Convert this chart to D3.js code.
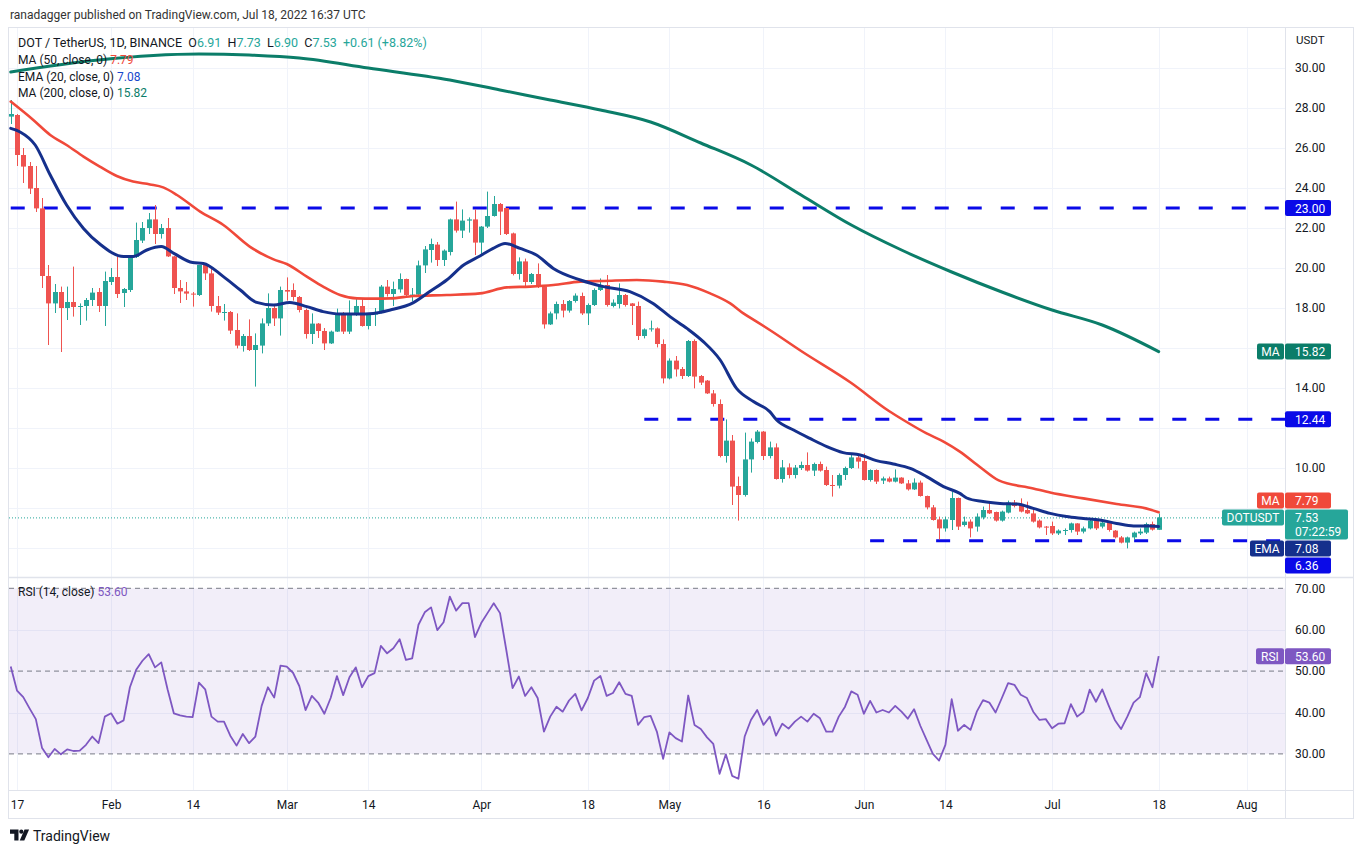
<!DOCTYPE html>
<html><head><meta charset="utf-8">
<script src="https://cdn.jsdelivr.net/npm/d3@7"></script>
<style>body{margin:0;background:#fff;} svg{display:block;font-family:Roboto,"Liberation Sans",sans-serif;}</style>
</head><body><svg id="c" width="1363" height="854"></svg>
<script>
// ---------- DATA ----------
const firstDay = "2022-01-16";
const opens = [27.57,27.65,25.65,25.1,24.0,22.98,19.6,18.23,18.8,18.0,18.3,18.05,18.1,18.4,18.8,18.1,19.3,19.55,18.75,18.9,
20.55,21.37,22.0,22.43,21.7,22.0,20.58,19.0,18.83,18.72,18.65,20.15,19.73,18.1,17.77,17.8,16.9,16.1,16.6,15.9,
16.12,17.23,18.0,17.48,18.9,18.9,18.55,17.9,16.7,17.22,16.85,16.23,16.82,17.75,16.82,17.67,18.1,17.1,17.67,17.75,
19.07,18.7,18.93,19.45,18.6,18.67,20.13,20.9,21.17,20.4,20.8,22.43,21.87,22.37,22.43,21.27,22.07,22.6,23.2,23.0,
21.73,19.7,20.33,19.3,19.7,19.08,17.18,17.73,18.2,17.87,18.35,18.6,17.73,18.15,18.9,19.15,18.1,18.2,18.65,18.23,
18.1,16.6,16.93,16.98,16.2,14.48,15.37,14.95,14.6,16.35,14.6,14.37,13.73,13.2,10.6,11.37,9.1,8.65,10.43,11.3,
11.82,10.6,11.03,9.45,10.03,9.65,10.0,10.15,9.87,10.2,9.9,9.15,9.12,9.65,10.0,10.53,10.35,9.4,9.9,9.37,
9.48,9.32,9.52,9.23,8.93,9.27,8.6,8.03,7.43,6.98,7.4,8.5,7.15,7.32,7.07,7.53,7.9,7.8,7.37,7.77,
8.27,8.2,7.9,7.73,7.37,7.07,7.1,6.73,6.87,6.9,7.23,6.82,6.98,7.37,7.07,7.27,6.87,6.53,6.27,6.53,
6.73,6.77,7.2,6.91];
const highs = [28.4,27.7,26.0,25.3,25.1,23.5,20.15,19.2,19.07,19.07,20.07,18.23,18.5,19.0,19.0,19.82,20.0,20.57,19.0,20.6,
22.27,22.3,22.75,23.15,22.2,22.5,20.6,19.4,19.3,18.8,20.15,20.2,20.0,18.6,18.2,17.85,17.73,16.7,17.43,16.73,
17.48,18.73,18.15,19.07,19.53,19.23,18.6,17.97,17.73,17.25,17.0,16.87,17.97,17.8,18.38,18.47,18.45,17.75,18.0,19.15,
19.4,19.32,19.73,19.47,19.0,20.37,21.1,21.47,21.3,20.93,22.47,23.32,22.93,22.53,22.93,22.1,23.82,23.6,23.25,23.0,
21.77,20.53,20.47,19.75,20.23,19.1,17.82,18.32,18.4,18.4,18.73,18.77,18.23,18.98,19.48,19.65,18.43,19.23,18.7,18.25,
18.32,16.98,17.37,17.03,16.43,15.48,15.6,15.05,16.4,16.43,14.65,14.4,13.9,13.43,12.43,11.65,9.57,11.77,11.48,11.9,
11.85,11.32,11.23,10.4,10.23,10.15,10.32,10.78,10.27,10.32,10.07,9.65,9.73,10.07,10.73,10.65,10.73,9.93,9.93,9.57,
9.57,9.93,9.54,9.4,9.48,9.37,8.62,8.15,7.57,7.57,8.82,8.52,7.57,7.43,7.73,8.07,8.32,7.82,7.87,8.37,
8.4,8.48,8.32,7.98,7.43,7.1,7.32,6.93,6.98,7.27,7.24,7.07,7.48,7.48,7.4,7.32,6.9,6.6,6.57,6.82,
6.98,7.27,7.32,7.73];
const lows = [27.2,25.1,24.25,23.7,22.8,19.0,16.15,17.75,15.8,17.4,17.57,17.15,17.37,18.1,17.8,17.1,19.15,18.5,18.05,18.8,
20.5,21.25,21.7,21.2,21.47,20.55,18.7,18.25,18.4,18.07,18.6,19.4,17.82,17.65,17.37,16.7,15.98,15.82,15.85,14.07,
15.73,17.1,17.1,16.62,18.37,18.37,17.78,16.47,16.2,16.5,15.9,16.2,16.8,16.7,16.7,17.6,17.07,16.93,17.1,17.73,
18.57,18.1,18.77,18.6,18.33,18.62,19.75,20.27,20.1,20.1,20.63,21.77,21.5,21.77,20.65,20.65,22.0,22.57,21.65,21.65,
19.63,19.42,19.08,19.2,19.0,16.97,17.15,17.43,17.53,17.77,18.27,17.65,17.15,18.1,18.85,18.07,18.03,17.98,18.07,17.15,
16.4,16.48,16.82,16.03,14.23,14.43,14.57,14.45,14.55,13.98,14.15,13.7,13.07,10.53,10.27,8.15,7.37,8.57,9.77,11.23,
10.4,10.48,9.42,9.27,9.48,9.48,9.9,9.82,9.6,9.82,9.1,8.57,8.98,9.4,9.95,9.98,9.37,9.32,9.2,9.2,
9.28,9.28,9.2,8.87,8.9,8.57,7.93,7.37,6.43,6.82,6.9,6.9,7.07,6.53,6.82,7.43,7.7,7.32,7.32,7.73,
8.03,7.78,7.7,7.27,6.98,6.65,6.65,6.65,6.65,6.77,6.65,6.73,6.93,6.9,6.98,6.82,6.48,6.23,5.98,6.4,
6.65,6.7,6.87,6.90];
const closes = [27.7,25.65,25.07,23.97,22.98,19.6,18.23,18.8,18.0,18.3,18.05,18.1,18.4,18.77,18.1,19.35,19.55,18.7,18.95,20.55,
21.4,22.0,22.43,21.7,22.0,20.58,19.0,18.83,18.72,18.68,20.15,19.73,18.1,17.77,17.8,16.87,16.12,16.6,15.9,16.15,
17.23,18.0,17.48,18.9,18.82,18.55,17.9,16.7,17.22,16.85,16.23,16.82,17.75,16.82,17.67,18.1,17.1,17.67,17.78,19.07,
18.7,18.95,19.45,18.65,18.67,20.13,20.93,21.2,20.4,20.87,22.43,21.87,22.37,22.43,21.27,22.07,22.6,23.2,22.82,21.7,
19.7,20.33,19.3,19.7,19.08,17.18,17.73,18.2,17.87,18.35,18.62,17.73,18.15,18.9,19.15,18.15,18.27,18.65,18.15,18.1,
16.6,16.93,16.98,16.2,14.48,15.37,14.93,14.6,16.35,14.57,14.27,13.73,13.2,10.6,11.37,9.07,8.65,10.43,11.32,11.82,
10.6,11.03,9.45,10.03,9.65,10.02,10.15,9.87,10.2,9.87,9.15,9.12,9.65,10.0,10.53,10.32,9.4,9.9,9.32,9.48,
9.32,9.52,9.23,8.93,9.27,8.6,8.03,7.4,6.98,7.43,8.5,7.07,7.32,6.98,7.57,7.9,7.73,7.37,7.82,8.27,
8.1,7.82,7.73,7.32,7.03,7.03,6.73,6.87,6.9,7.23,6.82,6.98,7.37,6.98,7.27,6.9,6.53,6.27,6.53,6.77,
6.82,7.2,6.92,7.53];
const rsiValues = [51.1,45.3,43.7,41.0,38.4,31.4,29.2,31.2,29.9,31.1,30.7,30.8,32.2,34.2,32.6,39.0,39.8,37.3,38.1,46.1,
50.3,52.5,54.1,50.9,52.1,45.6,39.8,39.3,39.0,38.9,47.2,45.6,39.0,37.8,37.8,34.4,32.0,34.8,32.6,34.2,
41.6,46.1,43.6,51.3,51.1,49.6,46.4,40.6,44.0,42.4,39.7,43.5,48.8,44.2,48.5,50.9,46.1,48.8,49.5,56.1,
54.3,55.5,57.7,52.7,53.1,61.2,64.2,65.4,59.9,61.8,68.0,64.6,66.4,66.4,58.2,61.6,64.0,66.4,64.0,55.1,
45.9,48.7,44.0,46.1,43.5,35.4,39.0,41.4,40.2,42.9,44.5,40.5,43.5,47.7,48.8,44.0,44.7,47.3,44.5,44.0,
37.0,38.9,39.2,35.4,28.8,35.2,33.8,33.0,44.1,37.0,36.0,34.0,32.4,25.2,29.9,24.7,24.0,34.2,38.2,40.6,
37.0,39.0,34.4,37.3,36.1,37.8,39.0,37.8,39.7,38.6,35.4,35.4,39.0,41.4,45.1,44.3,39.7,42.8,40.0,40.6,
40.0,41.6,40.2,38.5,40.8,36.8,33.4,30.0,28.4,32.2,43.2,35.6,37.0,35.8,40.2,43.0,42.4,40.0,43.5,47.1,
46.7,44.3,43.5,40.2,38.2,38.4,36.2,37.3,37.4,42.0,39.0,40.2,45.5,42.6,45.6,41.8,38.2,36.0,39.0,42.4,
43.7,49.5,46.1,53.6];
// moving averages (day index from firstDay, value)
const ma200Idx = [0,14,30,38,46,57,70,78,86,94,102,110,118,126,134,142,150,158,166,174,183];
const ma200Val = [29.8,30.4,30.7,30.65,30.5,30.0,29.4,28.9,28.4,27.9,27.3,26.25,25.15,23.65,22.15,20.9,19.8,18.8,17.9,17.15,15.82];
const ema20Idx = [0,1.5,3.9,6.3,8.9,11.6,14.2,18,19.5,21.7,24,26,29,30.7,33.9,36.6,39.2,41.9,44.5,47.2,49.8,52.5,55.2,57.8,60.5,64.2,66.8,69.5,72.2,74.8,76.9,78.8,81.2,83.8,86.5,90.8,94.5,98.7,102.4,105.1,107.8,110.4,113.1,115.7,118.4,121,122.1,124.8,127.4,130.1,132.7,135.4,138,140.7,143.4,146,148.7,151.3,152.4,155,157.7,160.4,163,165.7,168.3,171,173.6,176.3,179,181.6,183];
const ema20Val = [26.98,26.8,26.15,24.65,23.15,21.98,21.2,20.57,20.57,20.9,21.07,20.73,20.27,20.23,19.57,18.9,18.28,18.15,18.28,18.07,17.82,17.7,17.7,17.73,17.9,18.27,18.82,19.4,20.15,20.6,20.98,21.23,20.98,20.65,19.98,19.4,19.07,18.82,18.23,17.57,16.98,16.32,15.4,13.98,13.32,12.82,12.4,11.9,11.48,11.07,10.77,10.65,10.37,10.2,9.98,9.57,9.07,8.73,8.5,8.32,8.23,8.2,7.98,7.73,7.57,7.48,7.4,7.23,7.1,7.1,7.08];
const ma50Idx = [0,3.6,6.3,8.9,11.6,14.2,16.9,19.5,22.2,24.3,26.5,30.2,33.9,38.1,41.9,44,47.2,49.8,52.5,55.2,57.8,60.5,64.2,69.5,74.8,79.1,82.8,86.5,90.8,94.5,99.8,104,107.8,111.5,114.7,116.8,118.9,121,126,134,140,142.3,146,148.7,151.3,154.5,157.5,163,165.7,171,176.3,181.6,183];
const ma50Val = [28.32,27.4,26.65,26.15,25.57,25.07,24.6,24.32,24.18,24.03,23.65,22.82,22.15,21.07,20.43,20.2,19.57,19.07,18.65,18.48,18.47,18.48,18.6,18.65,18.73,19.03,19.07,19.15,19.32,19.35,19.4,19.32,19.15,18.73,18.23,17.73,17.32,16.9,15.85,14.25,12.85,12.4,11.73,11.32,10.82,10.05,9.38,8.98,8.77,8.48,8.2,7.93,7.79];
const levelValues = [23.00, 12.44, 6.36];
const levelStarts = ["2022-01-16","2022-04-27","2022-06-02"];
const priceTicks = [6,8,10,12,14,16,18,20,22,24,26,28,30];
const rsiTicks = [30,40,50,60,70];
const rsiBands = [70,50,30];
const timeTickDates = ["2022-01-17","2022-02-01","2022-02-14","2022-03-01","2022-03-14","2022-04-01","2022-04-18","2022-05-01","2022-05-16","2022-06-01","2022-06-14","2022-07-01","2022-07-18","2022-08-01"];
const timeTickLabels = ["17","Feb","14","Mar","14","Apr","18","May","16","Jun","14","Jul","18","Aug"];
const lastMA50 = 7.79, lastEMA20 = 7.08, lastMA200 = 15.82, lastRSI = 53.60, countdown = "07:22:59";

// ---------- LAYOUT ----------
const W = 1363, H = 854;
const L = 9, R = 1285, T = 28, SPLIT = 577, RB = 790, BOT = 818, AXR = 1353;
const UP = "#26a69a", DOWN = "#ef5350";
const C_MA50 = "#f0493a", C_EMA = "#15308c", C_MA200 = "#0b7d69", C_LVL = "#0a0ae8", C_RSI = "#7e57c2";
const GRID = "#f0f3fa", BORDER = "#e0e3eb", TXT = "#131722";

const svg = d3.select("#c");
svg.append("rect").attr("width", W).attr("height", H).attr("fill", "#fff");

const parse = d3.utcParse("%Y-%m-%d");
const d0 = parse(firstDay);
const dayAt = i => new Date(d0.getTime() + i * 86400000);
const x = d3.scaleUtc().domain([parse("2022-01-17"), parse("2022-08-01")]).range([17, 17 + 196 * 6.273]);
const y = d3.scaleLinear().domain([4.6, 32]).range([576, 28]);
const yr = d3.scaleLinear().domain([(70 - (790 - 588.3) / 4.14), 70 + (588.3 - 577) / 4.14]).range([790, 577]);

// header
svg.append("text").attr("x", 10).attr("y", 19).attr("font-size", 12).attr("fill", "#333")
  .text("ranadagger published on TradingView.com, Jul 18, 2022 16:37 UTC");

// frame
svg.append("rect").attr("x", L - 0.5).attr("y", T - 0.5).attr("width", AXR - L + 1).attr("height", BOT - T + 1)
  .attr("fill", "none").attr("stroke", BORDER);

// clip paths
const defs = svg.append("defs");
defs.append("clipPath").attr("id", "cp").append("rect").attr("x", L).attr("y", T).attr("width", R - L).attr("height", SPLIT - T);
defs.append("clipPath").attr("id", "cr").append("rect").attr("x", L).attr("y", SPLIT).attr("width", R - L).attr("height", RB - SPLIT);

// grids
const gGrid = svg.append("g");
timeTickDates.forEach(d => {
  const xx = Math.round(x(parse(d))) + 0.5;
  gGrid.append("line").attr("x1", xx).attr("x2", xx).attr("y1", T).attr("y2", RB).attr("stroke", GRID);
});
priceTicks.forEach(p => {
  const yy = Math.round(y(p)) + 0.5;
  gGrid.append("line").attr("x1", L).attr("x2", R).attr("y1", yy).attr("y2", yy).attr("stroke", GRID);
});
[40, 60].forEach(r => {
  const yy = Math.round(yr(r)) + 0.5;
  gGrid.append("line").attr("x1", L).attr("x2", R).attr("y1", yy).attr("y2", yy).attr("stroke", GRID);
});

// separators
svg.append("line").attr("x1", L).attr("x2", AXR).attr("y1", SPLIT + 0.5).attr("y2", SPLIT + 0.5).attr("stroke", BORDER).attr("stroke-width", 1.5);
svg.append("line").attr("x1", L).attr("x2", AXR).attr("y1", RB + 0.5).attr("y2", RB + 0.5).attr("stroke", BORDER);
svg.append("line").attr("x1", R + 0.5).attr("x2", R + 0.5).attr("y1", T).attr("y2", BOT).attr("stroke", BORDER);

// ---------- PRICE PANE ----------
const gP = svg.append("g").attr("clip-path", "url(#cp)");

levelValues.forEach((v, k) => {
  gP.append("line").attr("x1", x(parse(levelStarts[k]))).attr("x2", R).attr("y1", y(v)).attr("y2", y(v))
    .attr("stroke", C_LVL).attr("stroke-width", 3).attr("stroke-dasharray", "14,19");
});

const lastClose = closes[closes.length - 1];
gP.append("line").attr("x1", L).attr("x2", 1222).attr("y1", y(lastClose) + 0.5).attr("y2", y(lastClose) + 0.5)
  .attr("stroke", UP).attr("stroke-width", 1).attr("stroke-dasharray", "1,2");

// candles
const idx = d3.range(closes.length);
const gC = gP.append("g");
gC.selectAll("line").data(idx).join("line")
  .attr("x1", i => Math.round(x(dayAt(i))) + 0.5).attr("x2", i => Math.round(x(dayAt(i))) + 0.5)
  .attr("y1", i => y(highs[i])).attr("y2", i => y(lows[i]))
  .attr("stroke", i => closes[i] >= opens[i] ? UP : DOWN).attr("stroke-width", 1);
gC.selectAll("rect").data(idx).join("rect")
  .attr("x", i => Math.round(x(dayAt(i))) - 2)
  .attr("width", 5)
  .attr("y", i => y(Math.max(opens[i], closes[i])))
  .attr("height", i => Math.max(1, Math.abs(y(opens[i]) - y(closes[i]))))
  .attr("fill", i => closes[i] >= opens[i] ? UP : DOWN);

// MA lines
const lineGen = d3.line().curve(d3.curveMonotoneX);
function drawMA(ix, vals, color, w) {
  const pts = ix.map((d, k) => [x(dayAt(d)), y(vals[k])]);
  gP.append("path").attr("d", lineGen(pts)).attr("fill", "none").attr("stroke", color).attr("stroke-width", w)
    .attr("stroke-linejoin", "round").attr("stroke-linecap", "round");
}
drawMA(ma200Idx, ma200Val, C_MA200, 3);
drawMA(ma50Idx, ma50Val, C_MA50, 2.6);
drawMA(ema20Idx, ema20Val, C_EMA, 3);

// ---------- RSI PANE ----------
const gR = svg.append("g").attr("clip-path", "url(#cr)");
gR.append("rect").attr("x", L).attr("width", R - L).attr("y", yr(70)).attr("height", yr(30) - yr(70)).attr("fill", "rgba(126,87,194,0.1)");
rsiBands.forEach(r => {
  gR.append("line").attr("x1", L).attr("x2", R).attr("y1", yr(r)).attr("y2", yr(r))
    .attr("stroke", "#787b86").attr("stroke-width", 1).attr("stroke-dasharray", "5,4");
});
gR.append("path").attr("d", d3.line().x((d, i) => x(dayAt(i))).y(d => yr(d))(rsiValues))
  .attr("fill", "none").attr("stroke", C_RSI).attr("stroke-width", 1.8).attr("stroke-linejoin", "round");

// ---------- PRICE LABEL BOXES (positions resolved first) ----------
const labels = [
  {v: levelValues[0], text: levelValues[0].toFixed(2), color: C_LVL},
  {v: lastMA200, text: lastMA200.toFixed(2), color: C_MA200, tag: "MA"},
  {v: levelValues[1], text: levelValues[1].toFixed(2), color: C_LVL},
  {v: lastMA50, text: lastMA50.toFixed(2), color: C_MA50, tag: "MA"},
  {v: lastEMA20, text: lastEMA20.toFixed(2), color: C_EMA, tag: "EMA"},
  {v: levelValues[2], text: levelValues[2].toFixed(2), color: C_LVL}
];
const main = {v: lastClose, top: y(lastClose) - 8, bot: y(lastClose) + 22};
labels.forEach(l => { l.top = y(l.v) - 8; l.bot = y(l.v) + 8; });
const above = labels.filter(l => l.v > lastClose).sort((a, b) => a.v - b.v);
let lim = main.top - 1;
above.forEach(l => { if (l.bot > lim) { l.bot = lim; l.top = lim - 16; } lim = l.top - 1; });
const below = labels.filter(l => l.v <= lastClose).sort((a, b) => b.v - a.v);
lim = main.bot + 1;
below.forEach(l => { if (l.top < lim) { l.top = lim; l.bot = lim + 16; } lim = l.bot + 1; });
const occupied = labels.map(l => [l.top, l.bot]).concat([[main.top, main.bot]]);
const free = p => occupied.every(([a, b]) => y(p) + 6 < a - 1 || y(p) - 6 > b + 1);

// ---------- AXES ----------
const axP = svg.append("g").attr("transform", `translate(${R},0)`)
  .call(d3.axisRight(y).tickValues(priceTicks.filter(free)).tickSize(0).tickPadding(10).tickFormat(d3.format(".2f")));
axP.select(".domain").remove();
axP.selectAll("text").attr("font-size", 12).attr("fill", TXT).attr("font-family", "Roboto");
svg.append("text").attr("x", 1296).attr("y", 44).attr("font-size", 11.5).attr("fill", TXT).text("USDT");

const ry = yr(lastRSI);
const axR = svg.append("g").attr("transform", `translate(${R},0)`)
  .call(d3.axisRight(yr).tickValues(rsiTicks).tickSize(0).tickPadding(10).tickFormat(d3.format(".2f")));
axR.select(".domain").remove();
axR.selectAll("text").attr("font-size", 12).attr("fill", TXT).attr("font-family", "Roboto");

const axT = svg.append("g").attr("transform", `translate(0,${RB})`)
  .call(d3.axisBottom(x).tickValues(timeTickDates.map(parse)).tickSize(0).tickPadding(10)
    .tickFormat((d, i) => timeTickLabels[i]));
axT.select(".domain").remove();
axT.selectAll("text").attr("font-size", 12).attr("fill", TXT).attr("font-family", "Roboto");

const gL = svg.append("g").attr("font-size", 12).attr("fill", "#fff");
function box(x0, w, top, h, color) {
  gL.append("rect").attr("x", x0).attr("y", top).attr("width", w).attr("height", h).attr("rx", 2).attr("fill", color);
}
labels.forEach(l => {
  box(R, 46, l.top, 16, l.color);
  gL.append("text").attr("x", 1295).attr("y", l.top + 12.5).attr("fill", "#fff").text(l.text);
  if (l.tag) {
    const tw = l.tag === "EMA" ? 34 : 27;
    box(R - 1 - tw, tw, l.top, 16, l.color);
    gL.append("text").attr("x", R - 1 - tw / 2).attr("y", l.top + 12.5).attr("text-anchor", "middle").attr("fill", "#fff").text(l.tag);
  }
});
box(R, 63, main.top, 30, UP);
gL.append("text").attr("x", 1295).attr("y", main.top + 12.5).attr("fill", "#fff").text(lastClose.toFixed(2));
gL.append("text").attr("x", 1295).attr("y", main.top + 26.5).attr("fill", "#fff").text(countdown);
box(1222, 62, main.top, 16, UP);
gL.append("text").attr("x", 1253).attr("y", main.top + 12.5).attr("text-anchor", "middle").attr("fill", "#fff").text("DOTUSDT");
box(R, 46, ry - 8, 16, C_RSI);
gL.append("text").attr("x", 1295).attr("y", ry + 4.5).attr("fill", "#fff").text(lastRSI.toFixed(2));
box(1256, 28, ry - 8, 16, C_RSI);
gL.append("text").attr("x", 1270).attr("y", ry + 4.5).attr("text-anchor", "middle").attr("fill", "#fff").text("RSI");

// ---------- LEGENDS ----------
const n = closes.length - 1;
const chg = closes[n] - closes[n - 1];
const leg = svg.append("g").attr("font-size", 12.5).attr("fill", TXT);
const t1 = leg.append("text").attr("x", 18).attr("y", 47).attr("xml:space", "preserve").style("white-space", "pre");
t1.append("tspan").text("DOT / TetherUS, 1D, BINANCE");
[["O", opens[n]], ["H", highs[n]], ["L", lows[n]], ["C", closes[n]]].forEach(([k, v]) => {
  t1.append("tspan").text("  " + k);
  t1.append("tspan").attr("fill", UP).text(v.toFixed(2));
});
t1.append("tspan").attr("fill", UP).text("  +" + chg.toFixed(2) + " (+" + (chg / closes[n - 1] * 100).toFixed(2) + "%)");
function legLine(yy, label, val, color) {
  const t = leg.append("text").attr("x", 18).attr("y", yy).attr("font-size", 12);
  t.append("tspan").text(label + " ");
  t.append("tspan").attr("fill", color).text(val.toFixed(2));
}
legLine(64, "MA (50, close, 0)", lastMA50, C_MA50);
legLine(81, "EMA (20, close, 0)", lastEMA20, "#1848cc");
legLine(97, "MA (200, close, 0)", lastMA200, C_MA200);
const tr = svg.append("text").attr("x", 18).attr("y", 596).attr("font-size", 12).attr("fill", TXT);
tr.append("tspan").text("RSI (14, close) ");
tr.append("tspan").attr("fill", C_RSI).text(lastRSI.toFixed(2));

// ---------- FOOTER ----------
const ft = svg.append("g").attr("fill", TXT);
ft.append("path").attr("d", "M10 829.5 h8.5 v11 h-4.2 v-6.8 h-4.3 z");
ft.append("circle").attr("cx", 21.3).attr("cy", 831.7).attr("r", 2.1);
ft.append("path").attr("d", "M24.5 829.5 h4.6 l-4.8 11 h-4.6 z");
ft.append("text").attr("x", 33).attr("y", 840.5).attr("font-size", 14).text("TradingView");
</script></body></html>
